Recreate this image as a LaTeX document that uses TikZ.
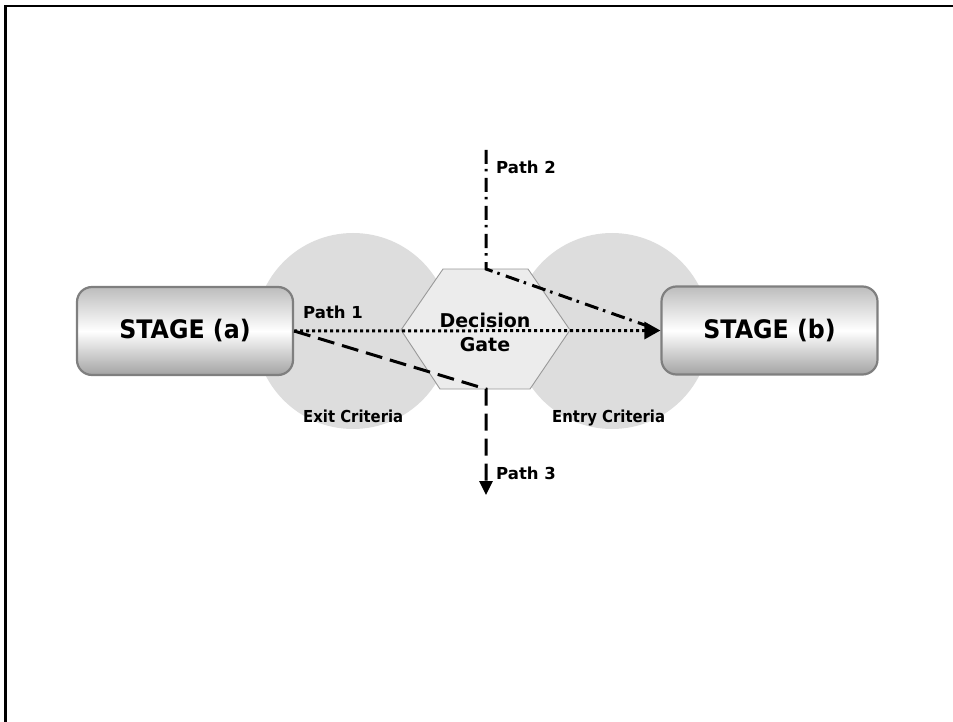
\documentclass[tikz,border=0pt]{standalone}
\usepackage{fontspec}
\usetikzlibrary{arrows.meta}
\newfontfamily\labfont{DejaVu Sans}
\newfontfamily\critfont[FakeStretch=0.9]{DejaVu Sans}
\newfontfamily\stagefont[FakeStretch=0.93]{DejaVu Sans}
\definecolor{halo}{HTML}{DDDDDD}
\definecolor{boxedge}{HTML}{7F7F7F}
\definecolor{gatefill}{HTML}{ECECEC}
\definecolor{gateedge}{HTML}{999999}
\tikzset{
  criterion/.style={circle, fill=halo, draw=none, minimum size=196pt, inner sep=0pt},
  stagebox/.style={draw=boxedge, line width=2.2pt, rounded corners=15pt,
    minimum width=216pt, minimum height=88pt, inner sep=0pt,
    top color=black!26, bottom color=black!36, middle color=white,
    font=\stagefont\bfseries\fontsize{25.5}{30}\selectfont},
  gateshape/.style={fill=gatefill, draw=gateedge, line width=0.9pt},
  gatetext/.style={inner sep=0pt, align=center,
    font=\labfont\bfseries\fontsize{19}{24}\selectfont},
  pathlabel/.style={inner sep=0pt, anchor=base west,
    font=\labfont\bfseries\fontsize{16.5}{20}\selectfont},
  critlabel/.style={inner sep=0pt, anchor=base west,
    font=\critfont\bfseries\fontsize{16.5}{20}\selectfont},
  dottedpath/.style={line width=3pt, dash pattern=on 3pt off 3pt},
  dashdotpath/.style={line width=3pt, dash pattern=on 14pt off 5pt on 2.5pt off 6.5pt},
  dashedpath/.style={line width=3pt, dash pattern=on 17pt off 8pt},
}
\begin{document}
\begin{tikzpicture}[x=1pt, y=-1pt]
\useasboundingbox (0,0) rectangle (953,722);

% frame (open to the right and bottom)
\draw[line width=2.4pt] (5.3,722) -- (5.3,5.8) -- (953,5.8);

% exit / entry criteria halos
\node[criterion] (exitc) at (353,331) {};
\node[criterion] (entryc) at (612,331) {};

% stages
\node[stagebox] (a) at (185,331) {STAGE (a)};
\node[stagebox] (b) at (769.5,330.5) {STAGE (b)};

% decision gate hexagon
\draw[gateshape] (401,330) -- (443,269) -- (528,269) -- (570,330) -- (530,389) -- (440,389) -- cycle;
\coordinate (gtop) at (486,269);
\coordinate (gbot) at (486,389);
\node[gatetext] (gate) at (485,332) {Decision\\Gate};

% path ends
\coordinate (p2top) at (486,150);
\coordinate (p3end) at (486,495);

% path 1: straight through the gate
\draw[dottedpath, -{Triangle[length=16pt,width=17pt]}] (a.east) -- (b.west);
% path 2: enters from above the gate
\draw[dashdotpath, shorten >=12pt] (p2top) -- (gtop) -- (b.west);
% path 3: leaves below the gate
\draw[dashedpath, -{Triangle[length=14pt,width=13pt]}] (a.east) -- (gbot) -- (p3end);

% labels
\node[pathlabel] (l1) at (303,318) {Path 1};
\node[pathlabel] (l2) at (496,174) {Path 2};
\node[pathlabel] (l3) at (496,479) {Path 3};
\node[critlabel] (lexit) at (303,422) {Exit Criteria};
\node[critlabel] (lentry) at (552,422) {Entry Criteria};
\end{tikzpicture}
\end{document}
